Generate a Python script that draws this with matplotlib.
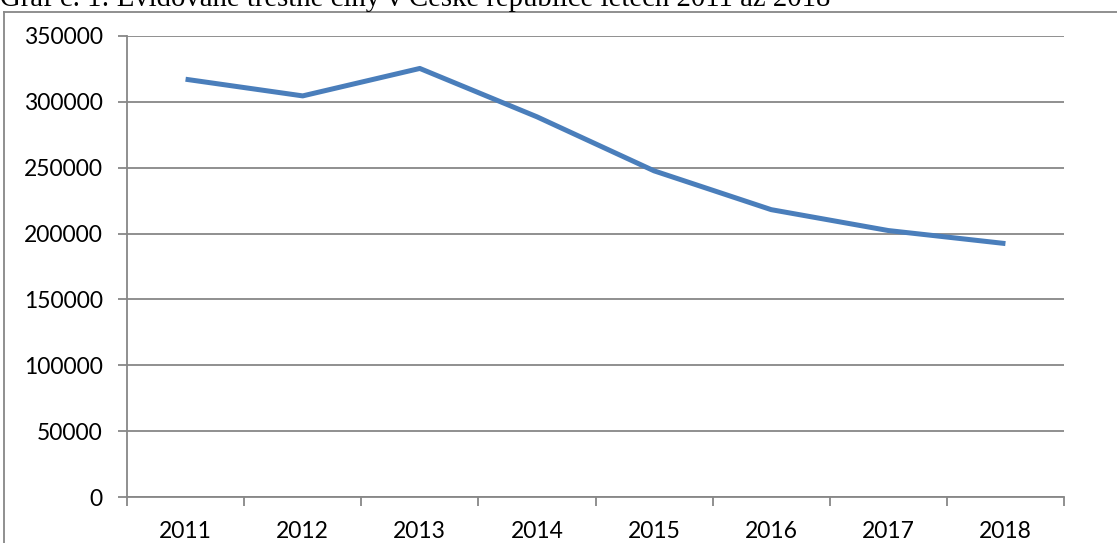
import matplotlib
matplotlib.use("Agg")
import matplotlib.pyplot as plt
from matplotlib.lines import Line2D

roky = ['2011', '2012', '2013', '2014', '2015', '2016', '2017', '2018']
trestne_ciny = [317177, 304528, 325366, 288660, 247628, 218162, 202303, 192405]
y_ticks = [0, 50000, 100000, 150000, 200000, 250000, 300000, 350000]
nadpis = 'Graf č. 1: Evidované trestné činy v České republice letech 2011 až 2018'

seda = '#878787'
modra = '#4A7EBB'

fig = plt.figure(figsize=(11.17, 5.43), dpi=100)
ax = fig.add_axes([127 / 1117, 1 - 497 / 543, (1064 - 127) / 1117, (497 - 36) / 543])

x = list(range(len(roky)))
ax.plot(x, trestne_ciny, color=modra, linewidth=3.6, solid_capstyle='butt', solid_joinstyle='round')

ax.set_xlim(-0.5, len(roky) - 0.5)
ax.set_ylim(0, 350000)
ax.set_yticks(y_ticks)
ax.set_yticklabels([str(v) for v in y_ticks])
ax.set_xticks([i - 0.5 for i in range(len(roky) + 1)])
ax.set_xticklabels([])
ax.set_xticks(x, minor=True)
ax.set_xticklabels(roky, minor=True)

ax.grid(axis='y', color=seda, linewidth=1.3)
ax.set_axisbelow(True)
for s in ['top', 'right']:
    ax.spines[s].set_visible(False)
for s in ['left', 'bottom']:
    ax.spines[s].set_color(seda)
    ax.spines[s].set_linewidth(1.3)

ax.tick_params(axis='y', which='major', direction='out', length=6.5, width=1.3,
               color=seda, pad=11, labelsize=16.5)
ax.tick_params(axis='x', which='major', direction='out', length=6.5, width=1.3, color=seda)
ax.tick_params(axis='x', which='minor', length=0, pad=17, labelsize=16.5)
for lab in ax.get_xticklabels(minor=True) + ax.get_yticklabels():
    lab.set_fontfamily('Lato')

# ramecek grafu (oriznuty)
fig.add_artist(Line2D([4 / 1117, 1], [1 - 12 / 543, 1 - 12 / 543], color=seda, linewidth=1.3))
fig.add_artist(Line2D([4 / 1117, 4 / 1117], [0, 1 - 12 / 543], color=seda, linewidth=1.3))

fig.text(830 / 1117, 1 - 6 / 543, nadpis, ha='right', va='baseline',
         fontsize=20.7, family='Liberation Serif')

fig.savefig('out.png', dpi=100)
